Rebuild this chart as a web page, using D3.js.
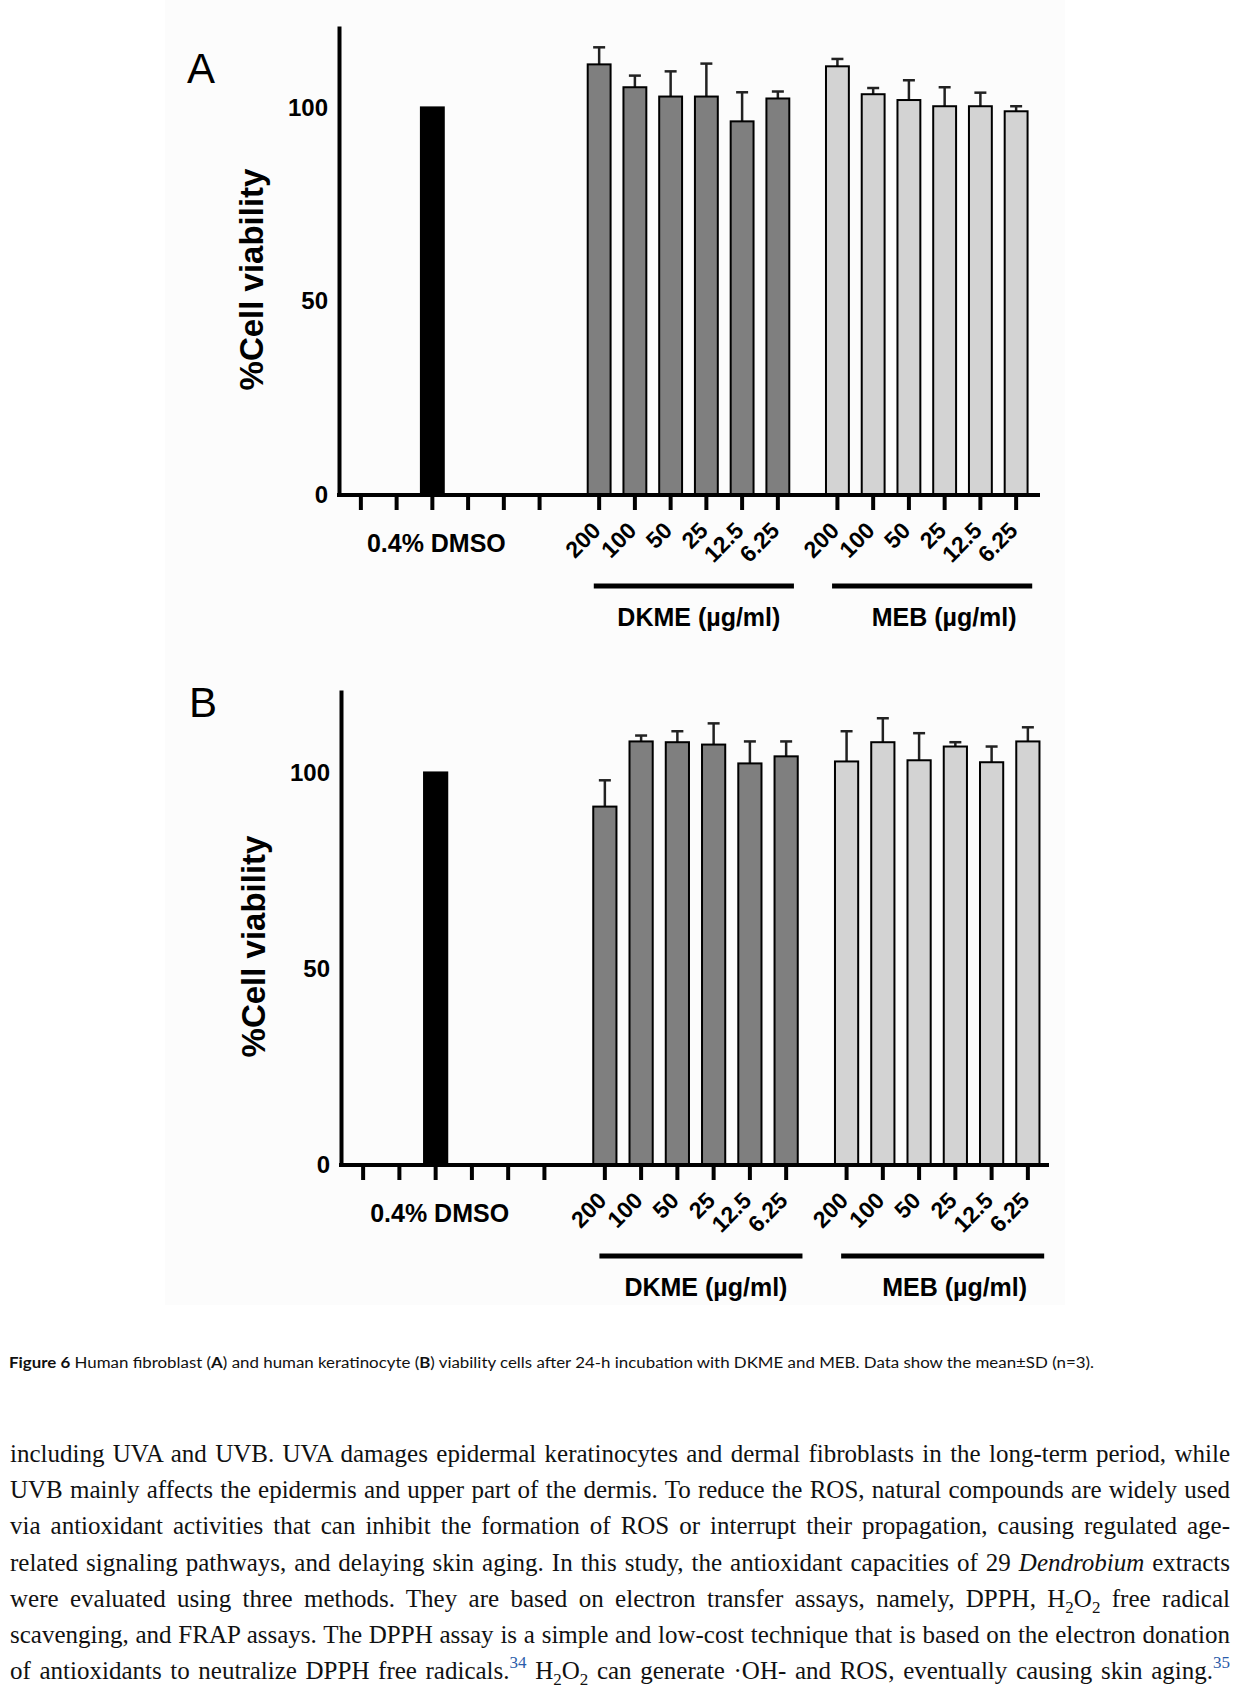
<!DOCTYPE html>
<html>
<head>
<meta charset="utf-8">
<script src="https://cdn.jsdelivr.net/npm/d3@7.9.0/dist/d3.min.js"></script>
<style>
  body { margin: 0; background: #fff; }
  svg { display: block; }
</style>
</head>
<body>
<svg id="fig" width="1241" height="1693"></svg>
<script>
// x categories
const groups = ["DMSO", "DKME", "MEB"];
const doses = ["200", "100", "50", "25", "12.5", "6.25"];
const groupLabels = { DKME: "DKME (µg/ml)", MEB: "MEB (µg/ml)" };
const dmsoLabel = "0.4% DMSO";
const yTicks = [0, 50, 100];

// A: human fibroblast
const dmsoValue = 100;
const fibroDKME = [111.1, 105.2, 102.8, 102.8, 96.4, 102.3];
const fibroDKMEsd = [4.4, 3.0, 6.5, 8.5, 7.5, 1.8];
const fibroMEB = [110.6, 103.4, 101.9, 100.3, 100.3, 99.0];
const fibroMEBsd = [1.9, 1.6, 5.1, 4.9, 3.5, 1.3];

// B: human keratinocyte
const keraDKME = [91.3, 107.9, 107.7, 107.1, 102.3, 104.1];
const keraDKMEsd = [6.7, 1.5, 2.8, 5.4, 5.6, 3.8];
const keraMEB = [102.8, 107.7, 103.1, 106.6, 102.6, 107.9];
const keraMEBsd = [7.7, 6.1, 6.9, 1.1, 4.0, 3.6];

const caption = [
  { t: "Figure 6", b: true },
  { t: " Human fibroblast (" },
  { t: "A", b: true },
  { t: ") and human keratinocyte (" },
  { t: "B", b: true },
  { t: ") viability cells after 24-h incubation with DKME and MEB. Data show the mean±SD (n=3)." }
];

// body text, one array per printed line
const bodyLines = [
  [{ t: "including UVA and UVB. UVA damages epidermal keratinocytes and dermal fibroblasts in the long-term period, while" }],
  [{ t: "UVB mainly affects the epidermis and upper part of the dermis. To reduce the ROS, natural compounds are widely used" }],
  [{ t: "via antioxidant activities that can inhibit the formation of ROS or interrupt their propagation, causing regulated age-" }],
  [{ t: "related signaling pathways, and delaying skin aging. In this study, the antioxidant capacities of 29 " }, { t: "Dendrobium", i: true }, { t: " extracts" }],
  [{ t: "were evaluated using three methods. They are based on electron transfer assays, namely, DPPH, H" }, { t: "2", sub: true }, { t: "O" }, { t: "2", sub: true }, { t: " free radical" }],
  [{ t: "scavenging, and FRAP assays. The DPPH assay is a simple and low-cost technique that is based on the electron donation" }],
  [{ t: "of antioxidants to neutralize DPPH free radicals." }, { t: "34", sup: true }, { t: " H" }, { t: "2", sub: true }, { t: "O" }, { t: "2", sub: true }, { t: " can generate ·OH- and ROS, eventually causing skin aging." }, { t: "35", sup: true }]
];

const svg = d3.select("#fig");
const chartFont = "'Liberation Sans', Arial, sans-serif";

svg.append("rect")
  .attr("x", 165).attr("y", 0)
  .attr("width", 900).attr("height", 1305)
  .attr("fill", "#fcfcfc");

function drawPanel(cfg) {
  const g = svg.append("g");

  const y = d3.scaleLinear().domain([0, 121]).range([cfg.base, cfg.top]);
  const outer = d3.scaleBand().domain(groups)
    .range([cfg.bandLeft, cfg.bandRight]).paddingInner(0.1);
  const inner = d3.scaleBand().domain(d3.range(doses.length))
    .range([0, outer.bandwidth()]);
  const cx = (grp, i) => outer(grp) + inner(i) + inner.bandwidth() / 2;
  const barW = inner.bandwidth() * 0.64;

  const bars = [{ group: "DMSO", slot: 2, value: dmsoValue, sd: 0, fill: "#000" }];
  cfg.dkme.forEach((v, i) => bars.push({ group: "DKME", slot: i, value: v, sd: cfg.dkmeSd[i], fill: "#7f7f7f" }));
  cfg.meb.forEach((v, i) => bars.push({ group: "MEB", slot: i, value: v, sd: cfg.mebSd[i], fill: "#d3d3d3" }));

  // error bars (upper only)
  const err = g.selectAll(".err").data(bars.filter(d => d.sd > 0)).join("g")
    .attr("stroke", "#222").attr("stroke-width", 2.5);
  err.append("line")
    .attr("x1", d => cx(d.group, d.slot)).attr("x2", d => cx(d.group, d.slot))
    .attr("y1", d => y(d.value)).attr("y2", d => y(d.value + d.sd));
  err.append("line")
    .attr("x1", d => cx(d.group, d.slot) - 6).attr("x2", d => cx(d.group, d.slot) + 6)
    .attr("y1", d => y(d.value + d.sd)).attr("y2", d => y(d.value + d.sd));

  g.selectAll(".bar").data(bars).join("rect")
    .attr("x", d => cx(d.group, d.slot) - barW / 2)
    .attr("y", d => y(d.value))
    .attr("width", barW)
    .attr("height", d => y(0) - y(d.value))
    .attr("fill", d => d.fill)
    .attr("stroke", "#000")
    .attr("stroke-width", 2);

  // y axis
  const yAxis = g.append("g")
    .attr("transform", `translate(${cfg.left},0)`)
    .call(d3.axisLeft(y).tickValues(yTicks).tickSize(0).tickSizeOuter(0).tickPadding(11));
  yAxis.select(".domain").attr("stroke", "#000").attr("stroke-width", 4);
  yAxis.selectAll("text")
    .attr("font-family", chartFont).attr("font-weight", "bold")
    .attr("font-size", 24).attr("fill", "#000");

  // x axis line and ticks
  g.append("line")
    .attr("x1", cfg.left - 2).attr("x2", cfg.axisRight)
    .attr("y1", cfg.base).attr("y2", cfg.base)
    .attr("stroke", "#000").attr("stroke-width", 4);

  const slots = groups.flatMap(grp => doses.map((d, i) => ({ group: grp, slot: i, dose: d })));
  g.selectAll(".xtick").data(slots).join("line")
    .attr("x1", d => cx(d.group, d.slot)).attr("x2", d => cx(d.group, d.slot))
    .attr("y1", cfg.base).attr("y2", cfg.base + 15)
    .attr("stroke", "#000").attr("stroke-width", 4);

  g.selectAll(".dose").data(slots.filter(d => d.group !== "DMSO")).join("text")
    .attr("transform", d => `translate(${cx(d.group, d.slot) + 3},${cfg.base + 37}) rotate(-45)`)
    .attr("text-anchor", "end")
    .attr("font-family", chartFont).attr("font-weight", "bold").attr("font-size", 23)
    .text(d => d.dose);

  g.append("text")
    .attr("x", cx("DMSO", 2) + 4).attr("y", cfg.base + 57)
    .attr("text-anchor", "middle")
    .attr("font-family", chartFont).attr("font-weight", "bold").attr("font-size", 25)
    .text(dmsoLabel);

  // group underlines and labels
  const step = inner.step();
  const labelNudge = { DKME: 5, MEB: 12 };
  ["DKME", "MEB"].forEach(grp => {
    const x0 = cx(grp, 0) - 0.15 * step;
    const x1 = cx(grp, doses.length - 1) + 0.45 * step;
    g.append("line")
      .attr("x1", x0).attr("x2", x1)
      .attr("y1", cfg.base + 91).attr("y2", cfg.base + 91)
      .attr("stroke", "#000").attr("stroke-width", 5);
    g.append("text")
      .attr("x", (x0 + x1) / 2 + labelNudge[grp]).attr("y", cfg.base + 131)
      .attr("text-anchor", "middle")
      .attr("font-family", chartFont).attr("font-weight", "bold").attr("font-size", 25)
      .text(groupLabels[grp]);
  });

  // y title
  g.append("text")
    .attr("transform", `translate(${cfg.left - 76},${(cfg.top + cfg.base) / 2 + 19}) rotate(-90)`)
    .attr("text-anchor", "middle")
    .attr("font-family", chartFont).attr("font-weight", "bold").attr("font-size", 33)
    .text("%Cell viability");

  // panel letter
  g.append("text")
    .attr("x", cfg.letterX).attr("y", cfg.letterY)
    .attr("font-family", chartFont).attr("font-size", 42)
    .text(cfg.letter);
}

drawPanel({
  letter: "A", letterX: 187, letterY: 83,
  left: 339, axisRight: 1040, bandLeft: 343, bandRight: 1034,
  top: 26, base: 495,
  dkme: fibroDKME, dkmeSd: fibroDKMEsd, meb: fibroMEB, mebSd: fibroMEBsd
});

drawPanel({
  letter: "B", letterX: 189, letterY: 717,
  left: 341, axisRight: 1049, bandLeft: 345, bandRight: 1046,
  top: 690, base: 1165,
  dkme: keraDKME, dkmeSd: keraDKMEsd, meb: keraMEB, mebSd: keraMEBsd
});

// caption
const cap = svg.append("text")
  .attr("x", 9).attr("y", 1368)
  .attr("font-family", "Lato, 'Open Sans', sans-serif").attr("font-size", 15.5)
  .attr("textLength", 1085).attr("lengthAdjust", "spacingAndGlyphs")
  .attr("fill", "#111");
caption.forEach(p => {
  cap.append("tspan").attr("font-weight", p.b ? "bold" : null).text(p.t);
});

// body paragraph, justified by word spacing
const bodyLeft = 10, bodyWidth = 1220;
bodyLines.forEach((parts, li) => {
  const t = svg.append("text")
    .attr("x", bodyLeft).attr("y", 1462 + li * 36.2)
    .attr("font-family", "'Liberation Serif', 'Times New Roman', serif")
    .attr("font-size", 25).attr("fill", "#111");
  let shift = 0;
  parts.forEach(p => {
    const s = t.append("tspan").text(p.t);
    let target = 0;
    if (p.i) s.attr("font-style", "italic");
    if (p.sub) { s.attr("font-size", 17); target = 6; }
    if (p.sup) { s.attr("font-size", 17).attr("fill", "#2a5caa"); target = -11; }
    if (target - shift !== 0) s.attr("dy", target - shift);
    shift = target;
  });
  const natural = t.node().getComputedTextLength();
  const spaces = parts.reduce((n, p) => n + (p.t.match(/ /g) || []).length, 0);
  t.attr("word-spacing", (bodyWidth - natural) / spaces);
});
</script>
</body>
</html>
